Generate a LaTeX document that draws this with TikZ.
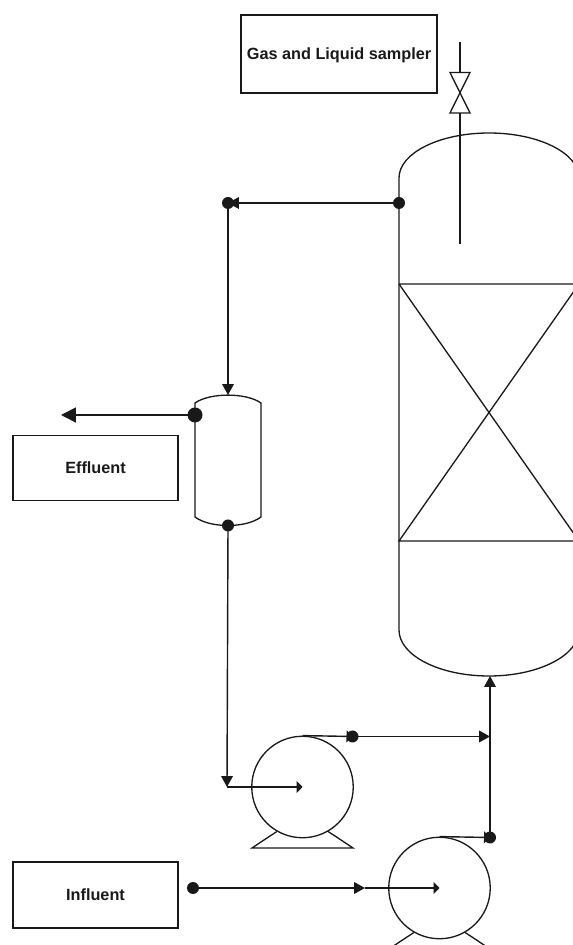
\documentclass[tikz,border=0pt]{standalone}
\usepackage{fontspec}
\setmainfont{Liberation Sans}
\usetikzlibrary{arrows.meta}
\tikzset{
  labelbox/.style={draw, line width=0.75pt, font=\bfseries\fontsize{9.25}{11}\selectfont, inner sep=0pt, text height=6.6pt, text depth=0pt},
  pumpbody/.style={draw, circle, line width=0.75pt, minimum size=2.03cm, inner sep=0pt},
  dotnode/.style={circle, fill=black!90, inner sep=0pt, outer sep=0pt, minimum size=0.24cm},
  bigdot/.style={dotnode, minimum size=0.3cm},
  vessel/.style={line width=0.75pt},
  flow/.style={line width=0.8pt, -{Triangle[length=6.2pt,width=6.6pt]}},
  shortflow/.style={line width=0.8pt, -{Triangle[length=3.4pt,width=6.8pt]}},
  bigflow/.style={line width=0.9pt, -{Triangle[length=8.5pt,width=8.5pt]}}
}
\begin{document}
\begin{tikzpicture}[color=black!90]
\useasboundingbox (0,0) rectangle (11.46,18.9);

% Label boxes
\node[labelbox, minimum width=3.92cm, minimum height=1.56cm] (sampler) at (6.78,17.82) {Gas and Liquid sampler};
\node[labelbox, minimum width=3.3cm, minimum height=1.31cm] (effluent) at (1.91,9.54) {Effluent};
\node[labelbox, minimum width=3.3cm, minimum height=1.32cm] (influent) at (1.91,1.0) {Influent};

% Reactor
\draw[vessel] (7.98,6.3) -- (7.98,15.34) arc[start angle=180, end angle=0, x radius=1.8, y radius=0.9] -- (11.58,6.3)
  arc[start angle=0, end angle=-180, x radius=1.8, y radius=0.92];
\draw[vessel] (7.98,13.22) -- (11.58,13.22) -- (7.98,8.08) -- (11.58,8.08) -- (7.98,13.22);
\coordinate (reactorin) at (9.8,5.38);

% Sampling line and valve
\coordinate (sampletop) at (9.2,18.06);
\coordinate (samplebot) at (9.2,14.02);
\draw[vessel] (sampletop) -- (9.2,17.45);
\draw[vessel] (9.0,17.45) -- (9.4,17.45) -- (9.0,16.64) -- (9.4,16.64) -- cycle;
\draw[vessel] (9.2,16.64) -- (samplebot);

% Separator
\draw[vessel] (3.9,10.84) .. controls (4.2,11.05) and (4.92,11.05) .. (5.22,10.84) -- (5.22,8.56)
  .. controls (4.92,8.333) and (4.2,8.333) .. (3.9,8.56) -- cycle;
\coordinate (sepin) at (4.56,11.0);

% Pumps
\node[pumpbody] (pumpa) at (6.05,3.16) {};
\node[pumpbody] (pumpb) at (8.79,1.14) {};
\draw[vessel] (pumpa.-120) -- (5.04,1.94) -- (7.06,1.94) -- (pumpa.-60);
\draw[vessel] (pumpb.-120) -- (7.78,-0.08) -- (9.8,-0.08) -- (pumpb.-60);

% Junction dots
\node[dotnode] (reactordot) at (7.98,14.84) {};
\node[dotnode] (splitdot) at (4.56,14.84) {};
\node[bigdot] (sepdot) at (3.9,10.6) {};
\node[dotnode] (sepbot) at (4.56,8.39) {};
\node[dotnode] (pumpadot) at (7.05,4.17) {};
\node[dotnode] (pumpbdot) at (9.8,2.15) {};
\node[dotnode] (feeddot) at (3.86,1.14) {};

% Free ends of the lines
\coordinate (effout) at (1.22,10.6);
\coordinate (pumpain) at (4.54,3.16);
\coordinate (merge) at (9.8,4.17);
\coordinate (feedmid) at (7.3,1.14);

% Recycle loop
\draw[flow] (reactordot.center) -- (splitdot.center);
\draw[flow] (splitdot.center) -- (sepin);
\draw[bigflow] (sepdot.center) -- (effout);
\draw[flow] (sepbot.center) -- (pumpain);
\draw[shortflow] (pumpain) -- (pumpa.center);
\draw[shortflow] (pumpa.north) -- (pumpadot.center);
\draw[flow] (pumpadot.center) -- (merge);

% Feed line
\draw[flow] (feeddot.center) -- (feedmid);
\draw[shortflow] (feedmid) -- (pumpb.center);
\draw[shortflow] (pumpb.north) -- (pumpbdot.center);
\draw[flow] (pumpbdot.center) -- (reactorin);

\end{tikzpicture}
\end{document}
